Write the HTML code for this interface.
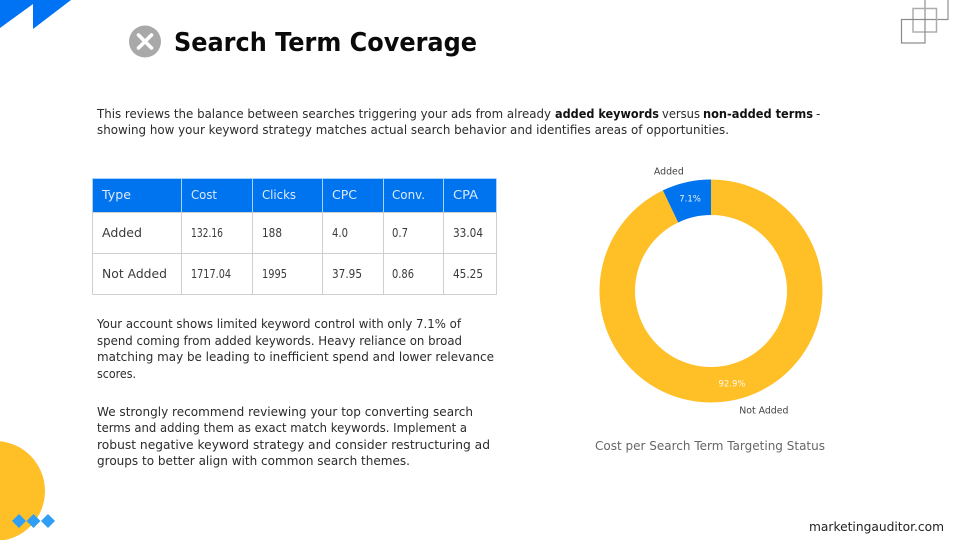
<!DOCTYPE html>
<html lang="en">
<head>
<meta charset="utf-8">
<title>Search Term Coverage</title>
<style>
html,body{margin:0;padding:0;background:#fff;width:960px;height:540px;overflow:hidden}
svg{display:block}
text{font-family:"DejaVu Sans","Liberation Sans",sans-serif}
.p{font-size:12px;fill:#2b2b2b}
.b{font-size:12px;font-weight:bold;fill:#111}
.th{font-size:12px;fill:#dcebff}
.td{font-size:12px;fill:#3a3a3a}
.g{stroke:#cfcfcf;stroke-width:1;fill:none}
</style>
</head>
<body>
<svg id="page" width="960" height="540" viewBox="0 0 960 540" xmlns="http://www.w3.org/2000/svg">
  <polygon points="0,0 71,0 33,29 33,4 0,28" fill="#0073f5"/>
  <g fill="none" stroke-width="1.2">
    <path d="M925 0V19.5H948V0" stroke="#8f8f8f"/>
    <rect x="913" y="8.5" width="23.5" height="23.5" stroke="#adadad" stroke-width="1.5"/>
    <rect x="901.5" y="19.5" width="23.5" height="23.5" stroke="#8a8a8a"/>
  </g>
  <circle cx="-5" cy="491" r="50" fill="#ffbf27"/>
  <g fill="#2e9ff5">
    <polygon points="19,514 26,521 19,528 12,521"/>
    <polygon points="33.5,514 40.5,521 33.5,528 26.5,521"/>
    <polygon points="48,514 55,521 48,528 41,521"/>
  </g>
  <g>
    <circle cx="145" cy="41.5" r="16" fill="#a9a9a9"/>
    <path d="M138.5 35L151.500 48M151.500 35L138.500 48" stroke="#fff" stroke-width="3.600" stroke-linecap="round"/>
  </g>
  <text x="174" y="51" font-size="25.500" font-weight="bold" fill="#0a0a0a" textLength="303">Search Term Coverage</text>

  <g>
    <text class="p" x="97" y="118" textLength="454">This reviews the balance between searches triggering your ads from already</text>
    <text class="b" x="555" y="118" textLength="104">added keywords</text>
    <text class="p" x="662" y="118" textLength="38">versus</text>
    <text class="b" x="703" y="118" textLength="110">non-added terms</text>
    <text class="p" x="816" y="118">-</text>
    <text class="p" x="97" y="134" textLength="632">showing how your keyword strategy matches actual search behavior and identifies areas of opportunities.</text>
  </g>

  <g>
    <rect x="92.500" y="178.500" width="404" height="33.500" fill="#0073ee"/>
    <g stroke="#a9d3fb" stroke-width="1" fill="none">
      <path d="M92.500 178.500H496.500M92.500 178.500V212M181.500 178.500V212M252.500 178.500V212M322.500 178.500V212M383.500 178.500V212M443.500 178.500V212M496.500 178.500V212"/>
    </g>
    <path class="g" d="M92.500 212.500H496.500M92.500 253.500H496.500M92.500 294.500H496.500M92.500 212V294.500M181.500 212V294.500M252.500 212V294.500M322.500 212V294.500M383.500 212V294.500M443.500 212V294.500M496.500 212V294.500"/>
    <text class="th" x="102" y="199" textLength="29">Type</text>
    <text class="th" x="191" y="199" textLength="26">Cost</text>
    <text class="th" x="262" y="199" textLength="34">Clicks</text>
    <text class="th" x="332" y="199" textLength="25">CPC</text>
    <text class="th" x="392" y="199" textLength="33">Conv.</text>
    <text class="th" x="453" y="199" textLength="25">CPA</text>
    <text class="td" x="102" y="237" textLength="40">Added</text>
    <text class="td" x="191" y="237" textLength="32">132.16</text>
    <text class="td" x="262" y="237" textLength="20">188</text>
    <text class="td" x="332" y="237" textLength="16">4.0</text>
    <text class="td" x="392" y="237" textLength="16">0.7</text>
    <text class="td" x="453" y="237" textLength="30">33.04</text>
    <text class="td" x="102" y="278" textLength="65">Not Added</text>
    <text class="td" x="191" y="278" textLength="40">1717.04</text>
    <text class="td" x="262" y="278" textLength="25">1995</text>
    <text class="td" x="332" y="278" textLength="30">37.95</text>
    <text class="td" x="392" y="278" textLength="22">0.86</text>
    <text class="td" x="453" y="278" textLength="30">45.25</text>
  </g>

  <g>
    <text class="p" x="97" y="328" textLength="364">Your account shows limited keyword control with only 7.1% of</text>
    <text class="p" x="97" y="345" textLength="365">spend coming from added keywords. Heavy reliance on broad</text>
    <text class="p" x="97" y="361" textLength="397">matching may be leading to inefficient spend and lower relevance</text>
    <text class="p" x="97" y="378" textLength="39">scores.</text>
  </g>
  <g>
    <text class="p" x="97" y="416" textLength="376">We strongly recommend reviewing your top converting search</text>
    <text class="p" x="97" y="432" textLength="370">terms and adding them as exact match keywords. Implement a</text>
    <text class="p" x="97" y="449" textLength="393">robust negative keyword strategy and consider restructuring ad</text>
    <text class="p" x="97" y="465" textLength="313">groups to better align with common search themes.</text>
  </g>

  <g id="donut"></g>
  <text x="595" y="450" font-size="12" fill="#666" textLength="230">Cost per Search Term Targeting Status</text>
  <text x="809" y="531" font-size="12" fill="#222" textLength="135">marketingauditor.com</text>
</svg>
<script>
const categories = ['Not Added', 'Added'];
const seriesValues = [92.9, 7.1];
const valueLabels = ['92.9%', '7.1%'];
const sliceColors = ['#ffbf27', '#0073ee'];

const cx = 711, cy = 291, outerR = 111.500, innerR = 76;
const total = seriesValues.reduce((a, b) => a + b, 0);
const NS = 'http://www.w3.org/2000/svg';
const host = document.getElementById('donut');

document.querySelectorAll('text[textLength]').forEach(function (t) {
  t.setAttribute('lengthAdjust', 'spacingAndGlyphs');
});

function angleOf(v) { return v / total * Math.PI * 2; }
function polar(r, a) { return [cx + r * Math.sin(a), cy - r * Math.cos(a)]; }
function slicePath(a0, a1) {
  const large = a1 - a0 > Math.PI ? 1 : 0;
  const p0 = polar(outerR, a0), p1 = polar(outerR, a1), p2 = polar(innerR, a1), p3 = polar(innerR, a0);
  return 'M' + p0[0] + ' ' + p0[1] + 'A' + outerR + ' ' + outerR + ' 0 ' + large + ' 1 ' + p1[0] + ' ' + p1[1] +
    'L' + p2[0] + ' ' + p2[1] + 'A' + innerR + ' ' + innerR + ' 0 ' + large + ' 0 ' + p3[0] + ' ' + p3[1] + 'Z';
}

let running = 0;
seriesValues.forEach(function (v, i) {
  const a0 = running, a1 = running + angleOf(v), mid = (a0 + a1) / 2;
  running = a1;

  const path = document.createElementNS(NS, 'path');
  path.setAttribute('d', slicePath(a0, a1));
  path.setAttribute('fill', sliceColors[i]);
  
  
  host.appendChild(path);

  const inner = polar((outerR + innerR) / 2 + 1, mid);
  const val = document.createElementNS(NS, 'text');
  val.setAttribute('x', inner[0]);
  val.setAttribute('y', inner[1] + 3);
  val.setAttribute('text-anchor', 'middle');
  val.setAttribute('font-size', '8.500');
  val.setAttribute('fill', '#fff');
  val.setAttribute('opacity', '0.9');
  val.textContent = valueLabels[i];
  
  
  host.appendChild(val);

  const outer = polar(outerR + 7, mid);
  const cat = document.createElementNS(NS, 'text');
  cat.setAttribute('x', outer[0] + (Math.sin(mid) >= 0 ? 2 : -1));
  cat.setAttribute('y', outer[1] + (Math.cos(mid) >= 0 ? -1 : 7));
  cat.setAttribute('text-anchor', Math.sin(mid) >= 0 ? 'start' : 'end');
  cat.setAttribute('font-size', '9.400');
  cat.setAttribute('fill', '#444');
  cat.textContent = categories[i];
  
  
  host.appendChild(cat);
});
</script>
</body>
</html>
